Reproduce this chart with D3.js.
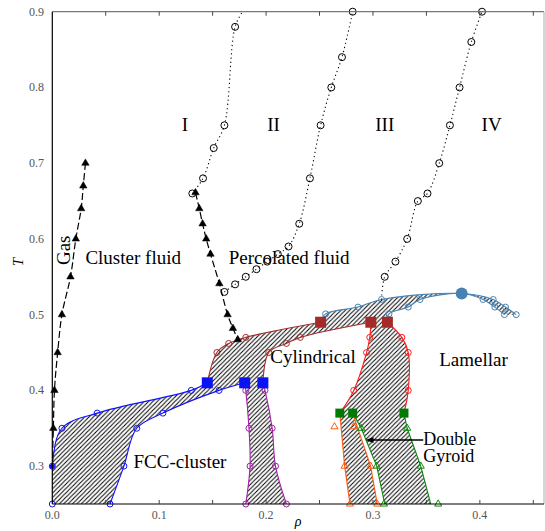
<!DOCTYPE html>
<html>
<head>
<meta charset="utf-8">
<script src="https://cdn.jsdelivr.net/npm/d3@7"></script>
<style>
  body { margin: 0; background: #fff; }
  text { font-family: "Liberation Serif", serif; }
</style>
</head>
<body>
<div id="chart"></div>
<script>
// Phase diagram data: [rho, T]
// --------------------------------------
// percolation lines (dotted, open circles); last flag = draw marker
const lineI = [[0.131, 0.66], [0.141, 0.68], [0.151, 0.72], [0.161, 0.75], [0.171, 0.88], [0.178, 0.90, 0]];
const lineII = [[0.161, 0.53], [0.171, 0.54], [0.181, 0.55], [0.191, 0.56], [0.201, 0.57], [0.211, 0.58],
    [0.221, 0.59], [0.231, 0.62], [0.241, 0.68], [0.251, 0.75], [0.261, 0.80], [0.271, 0.84], [0.281, 0.90]];
const lineIII = [[0.308, 0.52, 0], [0.311, 0.55], [0.321, 0.57], [0.332, 0.60], [0.342, 0.65], [0.351, 0.66],
    [0.362, 0.70], [0.372, 0.75], [0.381, 0.80], [0.392, 0.86], [0.402, 0.90]];
// dashed lines with filled triangles
const gasLine = [[0.031, 0.70], [0.029, 0.67], [0.027, 0.64], [0.022, 0.60], [0.017, 0.55], [0.009, 0.50],
    [0.005, 0.45], [0.002, 0.40], [0.001, 0.35], [0.0, 0.30, 0]];
const clusterLine = [[0.134, 0.661], [0.1375, 0.64], [0.1406, 0.62], [0.144, 0.60], [0.148, 0.58],
    [0.1563, 0.541], [0.164, 0.50], [0.169, 0.482], [0.1735, 0.467]];
// coexistence boundaries
const fccLeft = [[0.0, 0.25], [0.0, 0.30], [0.009, 0.35], [0.042, 0.37], [0.130, 0.40], [0.145, 0.41, 0]];
const fccRight = [[0.054, 0.25], [0.067, 0.30], [0.079, 0.35], [0.1035, 0.37], [0.156, 0.40], [0.180, 0.41, 0]];
const purpleLeft = [[0.180, 0.41, 0], [0.181, 0.40], [0.184, 0.35], [0.185, 0.30], [0.181, 0.25]];
const purpleRight = [[0.197, 0.41, 0], [0.199, 0.40], [0.2057, 0.35], [0.2088, 0.30], [0.219, 0.25]];
const cylUpper = [[0.145, 0.41, 0], [0.154, 0.45], [0.165, 0.462], [0.181, 0.47], [0.251, 0.49, 0]];
const cylLower = [[0.197, 0.41, 0], [0.2025, 0.45], [0.219, 0.462], [0.232, 0.47], [0.298, 0.49, 0]];
const lamUpper = [[0.251, 0.49, 0], [0.2557, 0.501], [0.286, 0.51], [0.308, 0.52], [0.383, 0.528, 0],
    [0.4125, 0.52], [0.424, 0.51], [0.434, 0.50]];
const lamLower = [[0.3135, 0.49, 0], [0.315, 0.501], [0.333, 0.51], [0.344, 0.52], [0.383, 0.528, 0],
    [0.403, 0.52], [0.414, 0.51], [0.423, 0.50]];
const redLeft = [[0.298, 0.49, 0], [0.297, 0.47], [0.294, 0.45], [0.282, 0.40], [0.269, 0.37, 0]];
const redRight = [[0.3135, 0.49, 0], [0.327, 0.47], [0.333, 0.45], [0.333, 0.40], [0.329, 0.37, 0]];
const orangeLeft = [[0.269, 0.37], [0.2735, 0.30], [0.2785, 0.25]];
const orangeRight = [[0.281, 0.37], [0.2978, 0.30], [0.304, 0.25]];
const orangeMarks = [[0.264, 0.352], [0.2735, 0.30], [0.2785, 0.25], [0.282, 0.352], [0.2978, 0.30], [0.304, 0.25]];
const greenLeft = [[0.281, 0.37], [0.289, 0.35], [0.3035, 0.30], [0.311, 0.25]];
const greenRight = [[0.329, 0.37], [0.332, 0.35], [0.3447, 0.30], [0.354, 0.25]];
const greenMarks = [[0.289, 0.35], [0.3035, 0.30], [0.3103, 0.25], [0.332, 0.35], [0.3447, 0.30], [0.361, 0.25]];
// triple points and critical point
const blueSquares = [[0.145, 0.41], [0.180, 0.41], [0.197, 0.41]];
const brownSquares = [[0.251, 0.49], [0.298, 0.49], [0.3135, 0.49]];
const greenSquares = [[0.269, 0.37], [0.281, 0.37], [0.329, 0.37]];
const criticalPoint = [0.383, 0.528];
// labels
const regionLabels = [["I", 0.124, 0.75], ["II", 0.207, 0.75], ["III", 0.311, 0.75], ["IV", 0.411, 0.75]];
const phaseLabels = [["Cluster fluid", 0.031, 0.567], ["Percolated fluid", 0.165, 0.567], ["Cylindrical", 0.204, 0.436],
    ["Lamellar", 0.362, 0.432], ["FCC-cluster", 0.076, 0.298]];
const xTicks = [0.0, 0.1, 0.2, 0.3, 0.4];
const yTicks = [0.3, 0.4, 0.5, 0.6, 0.7, 0.8, 0.9];

const colors = { fcc: "#1010ff", purple: "#a020a8", brown: "#a52a2a", steel: "#4682b4",
    red: "#ff1a1a", orange: "#ff5a10", green: "#0a8a0a" };

// --------------------------------------
const width = 545, height = 531;
const svg = d3.select("#chart").append("svg")
    .attr("width", width).attr("height", height);

const x = d3.scaleLinear().domain([0, 0.46]).range([52.3, 544]);
const y = d3.scaleLinear().domain([0.25, 0.9]).range([504, 11.7]);

// hatch pattern
svg.append("defs").append("pattern")
    .attr("id", "hatch")
    .attr("patternUnits", "userSpaceOnUse")
    .attr("width", 4.4).attr("height", 4.4)
    .append("path")
    .attr("d", "M-1,1 L1,-1 M0,4.4 L4.4,0 M3.4,5.4 L5.4,3.4")
    .attr("stroke", "#000").attr("stroke-width", 1);

svg.select("defs").append("clipPath").attr("id", "plotclip")
    .append("rect").attr("x", 52.3).attr("y", 11.7).attr("width", 544 - 52.3).attr("height", 504 - 11.7);

const smooth = d3.line().x(d => x(d[0])).y(d => y(d[1])).curve(d3.curveCatmullRom.alpha(0.5));
const straight = d3.line().x(d => x(d[0])).y(d => y(d[1]));

function region(a, b, gen) {
    return gen(a) + gen(b.slice().reverse()).replace(/^M/, "L") + "Z";
}

const plot = svg.append("g").attr("clip-path", "url(#plotclip)");

// --------------------------------------
// hatched coexistence regions
const regions = [[fccLeft, fccRight, smooth], [purpleLeft, purpleRight, smooth], [cylUpper, cylLower, smooth],
    [lamUpper, lamLower, smooth], [redLeft, redRight, smooth], [orangeLeft, orangeRight, straight],
    [greenLeft, greenRight, straight]];
plot.append("g").selectAll("path")
    .data(regions)
    .join("path")
    .attr("d", d => region(d[0], d[1], d[2]))
    .attr("fill", "url(#hatch)")
    .attr("stroke", "none");

// boundary lines
const boundaries = [[fccLeft, colors.fcc, smooth], [fccRight, colors.fcc, smooth],
    [purpleLeft, colors.purple, smooth], [purpleRight, colors.purple, smooth],
    [cylUpper, colors.brown, smooth], [cylLower, colors.brown, smooth],
    [lamUpper, colors.steel, smooth], [lamLower, colors.steel, smooth],
    [redLeft, colors.red, smooth], [redRight, colors.red, smooth],
    [orangeLeft, colors.orange, straight], [orangeRight, colors.orange, straight],
    [greenLeft, colors.green, straight], [greenRight, colors.green, straight]];
plot.append("g").selectAll("path")
    .data(boundaries)
    .join("path")
    .attr("d", d => d[2](d[0]))
    .attr("fill", "none")
    .attr("stroke", d => d[1])
    .attr("stroke-width", 1.1);

// dotted percolation lines and dashed cluster lines
[lineI, lineII, lineIII].forEach(l => {
    plot.append("path").attr("d", smooth(l))
        .attr("fill", "none").attr("stroke", "#000").attr("stroke-width", 1.1)
        .attr("stroke-dasharray", "1.2,3");
});
[gasLine, clusterLine].forEach(l => {
    plot.append("path").attr("d", smooth(l))
        .attr("fill", "none").attr("stroke", "#000").attr("stroke-width", 1.2)
        .attr("stroke-dasharray", "7,3");
});

// --------------------------------------
// markers
function circles(data, color, r) {
    svg.append("g").selectAll("circle")
        .data(data.filter(d => d[2] !== 0))
        .join("circle")
        .attr("cx", d => x(d[0])).attr("cy", d => y(d[1]))
        .attr("r", r)
        .attr("fill", "none").attr("stroke", color).attr("stroke-width", 1);
}
function triangles(data, color, filled, size) {
    svg.append("g").selectAll("path")
        .data(data.filter(d => d[2] !== 0))
        .join("path")
        .attr("transform", d => "translate(" + x(d[0]) + "," + y(d[1]) + ")")
        .attr("d", d3.symbol(d3.symbolTriangle).size(size))
        .attr("fill", filled ? color : "none")
        .attr("stroke", color).attr("stroke-width", filled ? 0.5 : 1);
}
function squares(data, color, s) {
    svg.append("g").selectAll("rect")
        .data(data)
        .join("rect")
        .attr("x", d => x(d[0]) - s / 2).attr("y", d => y(d[1]) - s / 2)
        .attr("width", s).attr("height", s)
        .attr("fill", color);
}

circles(lineI, "#000", 3.5);
circles(lineII, "#000", 3.5);
circles(lineIII, "#000", 3.5);
triangles(gasLine, "#000", true, 24);
triangles(clusterLine, "#000", true, 24);
circles(fccLeft, colors.fcc, 3);
circles(fccRight, colors.fcc, 3);
svg.append("circle").attr("cx", x(0)).attr("cy", y(0.30)).attr("r", 2.5).attr("fill", colors.fcc);
circles(purpleLeft, colors.purple, 3);
circles(purpleRight, colors.purple, 3);
circles(cylUpper, colors.brown, 3);
circles(cylLower, colors.brown, 3);
circles(lamUpper, colors.steel, 3);
circles(lamLower, colors.steel, 3);
circles(redLeft, colors.red, 3);
circles(redRight, colors.red, 3);
triangles(orangeMarks, colors.orange, false, 22);
triangles(greenMarks, colors.green, false, 22);
squares(blueSquares, "#0a14f0", 11);
squares(brownSquares, colors.brown, 11);
squares(greenSquares, "#007a00", 9);
svg.append("circle")
    .attr("cx", x(criticalPoint[0])).attr("cy", y(criticalPoint[1]))
    .attr("r", 6).attr("fill", colors.steel);

// --------------------------------------
// axes frame
const ax = svg.append("g");
ax.append("line").attr("x1", 52.3).attr("x2", 544).attr("y1", 11.7).attr("y2", 11.7)
    .attr("stroke", "#777").attr("stroke-width", 1.2);
ax.append("line").attr("x1", 544).attr("x2", 544).attr("y1", 11.7).attr("y2", 504)
    .attr("stroke", "#bbb").attr("stroke-width", 1.2);
ax.append("line").attr("x1", 52.3).attr("x2", 52.3).attr("y1", 11.7).attr("y2", 504)
    .attr("stroke", "#000").attr("stroke-width", 1.2);
ax.append("line").attr("x1", 52.3).attr("x2", 544).attr("y1", 504).attr("y2", 504)
    .attr("stroke", "#000").attr("stroke-width", 1.2);

const minorX = d3.range(0.05, 0.46, 0.05);
ax.selectAll(".tb").data(minorX).join("line")
    .attr("x1", d => x(d)).attr("x2", d => x(d))
    .attr("y1", 504).attr("y2", 500).attr("stroke", "#444");
ax.selectAll(".tt").data(minorX).join("line")
    .attr("x1", d => x(d)).attr("x2", d => x(d))
    .attr("y1", 11.7).attr("y2", 15.7).attr("stroke", "#444");

ax.selectAll(".xl").data(xTicks).join("text")
    .attr("x", d => x(d)).attr("y", 519)
    .attr("text-anchor", "middle")
    .attr("font-size", 12).attr("fill", "#555")
    .text(d => d.toFixed(1));
ax.selectAll(".yl").data(yTicks).join("text")
    .attr("x", 44).attr("y", d => y(d) + 4)
    .attr("text-anchor", "end")
    .attr("font-size", 12).attr("fill", "#555")
    .text(d => d.toFixed(1));

svg.append("text")
    .attr("transform", "translate(23,262) rotate(-90)")
    .attr("text-anchor", "middle")
    .attr("font-size", 15).attr("font-style", "italic")
    .text("T");
svg.append("text")
    .attr("x", 298).attr("y", 526)
    .attr("text-anchor", "middle")
    .attr("font-size", 14).attr("font-style", "italic")
    .text("ρ");

// --------------------------------------
// labels
svg.append("g").selectAll("text")
    .data(regionLabels)
    .join("text")
    .attr("x", d => x(d[1])).attr("y", d => y(d[2]) + 6)
    .attr("text-anchor", "middle")
    .attr("font-size", 19)
    .text(d => d[0]);
svg.append("g").selectAll("text")
    .data(phaseLabels)
    .join("text")
    .attr("x", d => x(d[1])).attr("y", d => y(d[2]))
    .attr("font-size", 19)
    .text(d => d[0]);
svg.append("text")
    .attr("transform", "translate(70," + y(0.585) + ") rotate(-90)")
    .attr("text-anchor", "middle")
    .attr("font-size", 19)
    .text("Gas");
svg.append("text").attr("x", x(0.347)).attr("y", y(0.328)).attr("font-size", 18).text("Double");
svg.append("text").attr("x", x(0.347)).attr("y", y(0.305)).attr("font-size", 18).text("Gyroid");

// arrow pointing into the double gyroid region
const arrowY = y(0.3345);
svg.append("line")
    .attr("x1", x(0.347)).attr("x2", x(0.293) + 6)
    .attr("y1", arrowY).attr("y2", arrowY)
    .attr("stroke", "#000").attr("stroke-width", 1.3);
svg.append("path")
    .attr("d", "M" + x(0.293) + "," + arrowY + " l8,-3 l0,6 Z")
    .attr("fill", "#000");
</script>
</body>
</html>
